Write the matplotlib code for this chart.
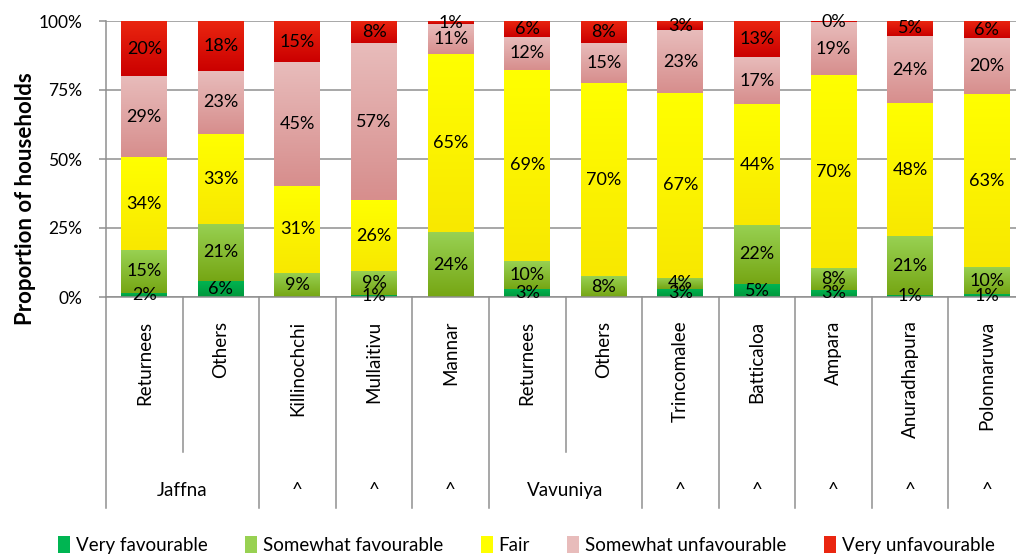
import numpy as np
import matplotlib
matplotlib.use("Agg")
import matplotlib.pyplot as plt
from matplotlib.colors import to_rgb
from matplotlib.patches import Patch

plt.rcParams['font.family'] = ['Lato', 'DejaVu Sans']

# categories along the x axis, and the district group each belongs to
categories = ["Returnees", "Others", "Killinochchi", "Mullaitivu", "Mannar", "Returnees",
              "Others", "Trincomalee", "Batticaloa", "Ampara", "Anuradhapura", "Polonnaruwa"]
group_labels = ["Jaffna", "^", "^", "^", "Vavuniya", "^", "^", "^", "^", "^"]
group_sizes = [2, 1, 1, 1, 2, 1, 1, 1, 1, 1]

# percentage of households per category
very_fav = [1.6, 5.8, 0, 0.8, 0, 3.0, 0, 3.0, 4.6, 2.6, 0.8, 1.0]
somewhat_fav = [15.4, 20.8, 8.8, 8.6, 23.5, 10.1, 7.6, 4.0, 21.6, 7.8, 21.2, 9.8]
fair = [33.6, 32.6, 31.4, 25.7, 64.7, 69.2, 69.8, 66.8, 43.6, 70.0, 48.2, 62.8]
somewhat_unfav = [29.4, 22.7, 44.8, 56.9, 10.6, 11.9, 14.6, 22.8, 17.2, 19.2, 24.4, 20.2]
very_unfav = [20.0, 18.1, 15.0, 8.0, 1.2, 5.8, 8.0, 3.4, 13.0, 0.4, 5.4, 6.2]

series_names = ["Very favourable", "Somewhat favourable", "Fair",
                "Somewhat unfavourable", "Very unfavourable"]
series_values = [very_fav, somewhat_fav, fair, somewhat_unfav, very_unfav]
# (top colour, bottom colour) of the gradient fill
series_colors = [("#00b552", "#00983c"), ("#98d152", "#76a614"), ("#ffff00", "#f8e800"),
                 ("#e8bcbb", "#d78e8d"), ("#ea2610", "#cb0000")]

GRID = "#8f8f8f"


def draw_gradient(ax, rect, top, bottom):
    x, y = rect.get_x(), rect.get_y()
    w, h = rect.get_width(), rect.get_height()
    if h <= 0:
        return
    t = np.linspace(0, 1, 64)[:, None, None]
    img = (1 - t) * np.array(to_rgb(top)) + t * np.array(to_rgb(bottom))
    ax.imshow(img, extent=[x, x + w, y, y + h], aspect='auto', origin='upper',
              zorder=2.1, interpolation='bilinear')


fig = plt.figure(figsize=(10.16, 5.56), dpi=100)
ax = fig.add_axes([106 / 1016, 1 - 297 / 556, 919 / 1016, 276 / 556])

x = np.arange(len(categories))
bottom = np.zeros(len(categories))
for name, vals, (c_top, c_bot) in zip(series_names, series_values, series_colors):
    vals = np.array(vals, dtype=float)
    bars = ax.bar(x, vals, bottom=bottom, width=0.6, color=c_top, edgecolor='none', zorder=2)
    for rect in bars:
        draw_gradient(ax, rect, c_top, c_bot)
    for xi, b, v in zip(x, bottom, vals):
        if v > 0:
            ax.text(xi, b + v / 2, f"{v:.0f}%", ha='center', va='center',
                    fontsize=13, color='black', zorder=5)
    bottom += vals

ax.set_xlim(-0.5, len(categories) - 0.5)
ax.set_ylim(0, 100)
ax.set_yticks([0, 25, 50, 75, 100])
ax.set_yticklabels([f"{v}%" for v in [0, 25, 50, 75, 100]])
ax.set_xticks([])
ax.yaxis.grid(True, color=GRID, linewidth=1.1)
ax.set_axisbelow(True)
ax.tick_params(axis='y', length=5, color=GRID, width=1.1, labelsize=12.5, pad=12)
for side in ['top', 'right']:
    ax.spines[side].set_visible(False)
for side in ['left', 'bottom']:
    ax.spines[side].set_color(GRID)
    ax.spines[side].set_linewidth(1.1)

# category labels and separators under the axis
trans = ax.get_xaxis_transform()
for xi, cat in zip(x, categories):
    ax.text(xi, -0.085, cat, rotation=90, ha='center', va='top', fontsize=13.5, transform=trans)

start = 0
for label, size in zip(group_labels, group_sizes):
    ax.plot([start - 0.5, start - 0.5], [0, -0.764], color=GRID, linewidth=1.1,
            transform=trans, clip_on=False)
    for k in range(1, size):
        ax.plot([start + k - 0.5] * 2, [0, -0.56], color=GRID, linewidth=1.1,
                transform=trans, clip_on=False)
    ax.text(start + (size - 1) / 2, -0.70, label, ha='center', va='center',
            fontsize=13.5, transform=trans)
    start += size
ax.plot([start - 0.5] * 2, [0, -0.764], color=GRID, linewidth=1.1,
        transform=trans, clip_on=False)

fig.text(0.025, 0.643, "Proportion of households", rotation=90, ha='center', va='center',
         fontsize=16, fontweight='bold')

handles = [Patch(facecolor=c_top, edgecolor='none') for c_top, c_bot in series_colors]
fig.legend(handles, series_names, loc='center', bbox_to_anchor=(0.518, 0.02), ncol=5,
           frameon=False, fontsize=13.5, handlelength=0.65, handleheight=1.0,
           handletextpad=0.3, columnspacing=2.0)

fig.savefig("out.png", dpi=100)
